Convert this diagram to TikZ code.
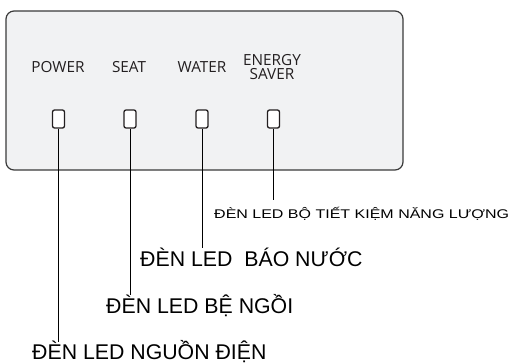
\documentclass[tikz,border=0pt]{standalone}
\usepackage{fontspec}
\setmainfont{Liberation Sans}
\newfontfamily\panelfont{Open Sans}
\newfontfamily\widefont[FakeStretch=1.27]{Liberation Sans}
\definecolor{panelgray}{HTML}{F1F2F3}
\definecolor{edgegray}{HTML}{3A3A3A}
\definecolor{inkgray}{HTML}{231F20}
\begin{document}
\begin{tikzpicture}[x=1pt,y=-1pt,
		led/.style={draw=inkgray,line width=1.3pt,fill=white,rounded corners=2pt,minimum width=12pt,minimum height=18pt,inner sep=0pt},
		paneltext/.style={font=\panelfont\fontsize{15.3}{14.3}\selectfont,text=inkgray,inner sep=0pt,align=center},
		ledtext/.style={font=\fontsize{21.3}{24}\selectfont,inner sep=0pt,anchor=base west},
		wire/.style={line width=1pt}]
			\useasboundingbox (0,0) rectangle (514,362);
			\draw[fill=panelgray,draw=edgegray,line width=1.2pt,rounded corners=8pt] (6,11) rectangle (403,170);
			\node[paneltext,anchor=base] (tpower) at (58,72.7) {POWER};
			\node[paneltext,anchor=base] (tseat) at (129,72.7) {SEAT};
			\node[paneltext,anchor=base] (twater) at (202,72.7) {WATER};
			\node[paneltext,anchor=north] (tenergy) at (272,54) {ENERGY\\SAVER};
			\node[led] (lpower) at (58.5,119) {};
			\node[led] (lseat) at (130,119) {};
			\node[led] (lwater) at (202,119) {};
			\node[led] (lenergy) at (273.5,119) {};
			\node[inner sep=0pt,anchor=base west,font=\widefont\fontsize{12.6}{14}\selectfont] (senergy) at (214,218.3) {ĐÈN LED BỘ TIẾT KIỆM NĂNG LƯỢNG};
			\node[ledtext] (swater) at (140,266) {ĐÈN LED\ \ BÁO NƯỚC};
			\node[ledtext] (sseat) at (106,313.3) {ĐÈN LED BỆ NGỒI};
			\node[ledtext] (spower) at (32,359) {ĐÈN LED NGUỒN ĐIỆN};
			\coordinate (epower) at (58.5,342);
			\coordinate (eseat) at (130,295);
			\coordinate (ewater) at (202,248);
			\coordinate (eenergy) at (273.5,200);
			\draw[wire] (lpower.south) -- (epower);
			\draw[wire] (lseat.south) -- (eseat);
			\draw[wire] (lwater.south) -- (ewater);
			\draw[wire] (lenergy.south) -- (eenergy);
		\end{tikzpicture}
\end{document}
